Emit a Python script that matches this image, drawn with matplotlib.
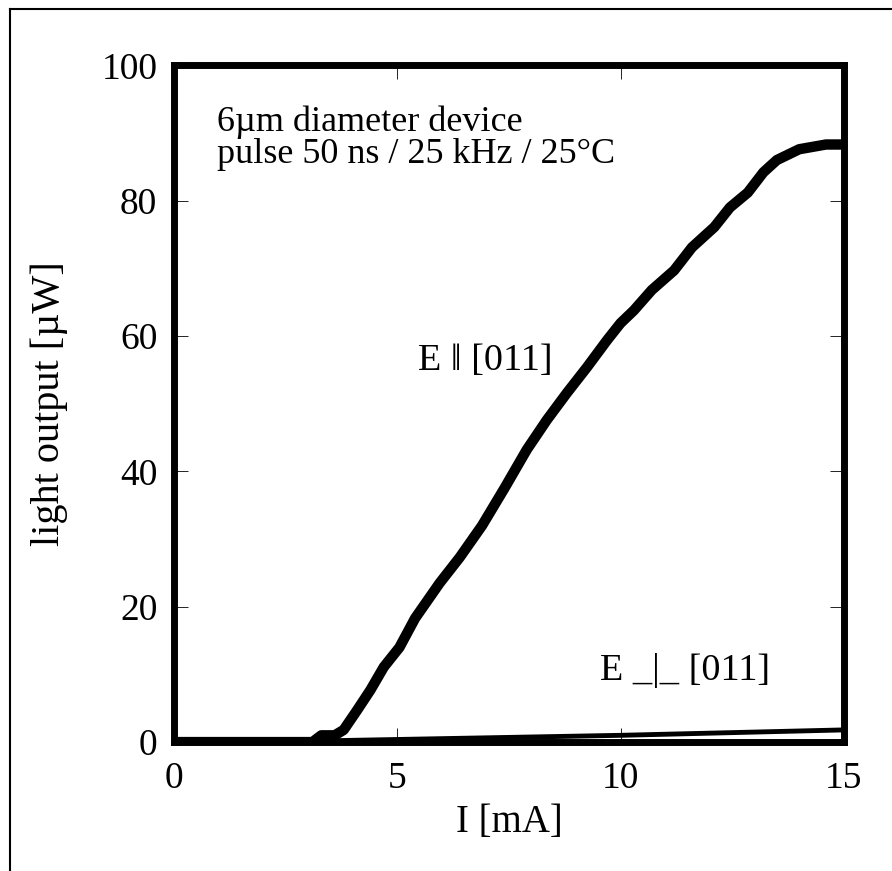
import numpy as np
import matplotlib.pyplot as plt
from matplotlib.lines import Line2D

# Light output vs current, 6um device
# values

# E || [011] curve
i_par = [0, 3.1, 3.3, 3.6, 3.8, 4.1, 4.4, 4.7, 5.05, 5.4, 5.95, 6.4, 6.9,
         7.4, 7.9, 8.35, 8.8, 9.25, 9.7, 10.0, 10.3, 10.7, 11.2, 11.6, 12.1,
         12.45, 12.85, 13.2, 13.5, 14.0, 14.6, 15]
p_par = [0, 0, 1.0, 1.0, 1.8, 4.7, 7.7, 11.1, 14.0, 18.3, 23.5, 27.3, 32.0,
         37.5, 43.2, 47.6, 51.6, 55.4, 59.4, 61.9, 63.8, 66.8, 69.7, 73.1, 76.1,
         79.0, 81.2, 84.2, 86.0, 87.6, 88.3, 88.3]

# E _|_ [011] curve
i_perp = [0, 3.5, 10, 15]
p_perp = [0, 0.2, 1.0, 1.8]

x_ticks = [0, 5, 10, 15]
y_ticks = [0, 20, 40, 60, 80, 100]

plt.rcParams['font.family'] = ['Liberation Serif', 'DejaVu Serif']

fig = plt.figure(figsize=(8.92, 8.71), dpi=100, facecolor='w')
ax = fig.add_axes([0.195, 0.148, 0.751, 0.777])

ax.plot(i_perp, p_perp, 'k', lw=3.5, solid_capstyle='butt')
ax.plot(i_par, p_par, 'k', lw=7.5, solid_joinstyle='round')

ax.set_xlim(0, 15)
ax.set_ylim(0, 100)
ax.set_xticks(x_ticks)
ax.set_yticks(y_ticks)
ax.tick_params(direction='in', length=10, width=0.6, top=True, right=True,
               labelsize=27)
ax.tick_params(axis='x', pad=14)
ax.tick_params(axis='y', pad=12)
for spine in ax.spines.values():
    spine.set_linewidth(5)

ax.set_xlabel('I [mA]', fontsize=28, labelpad=6)
ax.set_ylabel('light output [\u00b5W]', fontsize=29, labelpad=24)

ax.text(0.96, 89.2, '6\u00b5m diameter device\npulse 50 ns / 25 kHz / 25\u00b0C',
        fontsize=26, va='center', ha='left', linespacing=0.95)
ax.text(5.46, 56.4, 'E \u2016 [011]', fontsize=27.5, va='center', ha='left')
ax.text(9.54, 10.6, 'E _|_ [011]', fontsize=27.5, va='center', ha='left')

# scanned page border (top and left only)
fig.add_artist(Line2D([0.011, 0.011], [0, 0.99], color='k', lw=1.5,
                      transform=fig.transFigure))
fig.add_artist(Line2D([0.011, 1.0], [0.99, 0.99], color='k', lw=1.5,
                      transform=fig.transFigure))

plt.savefig('out.png', dpi=100)
